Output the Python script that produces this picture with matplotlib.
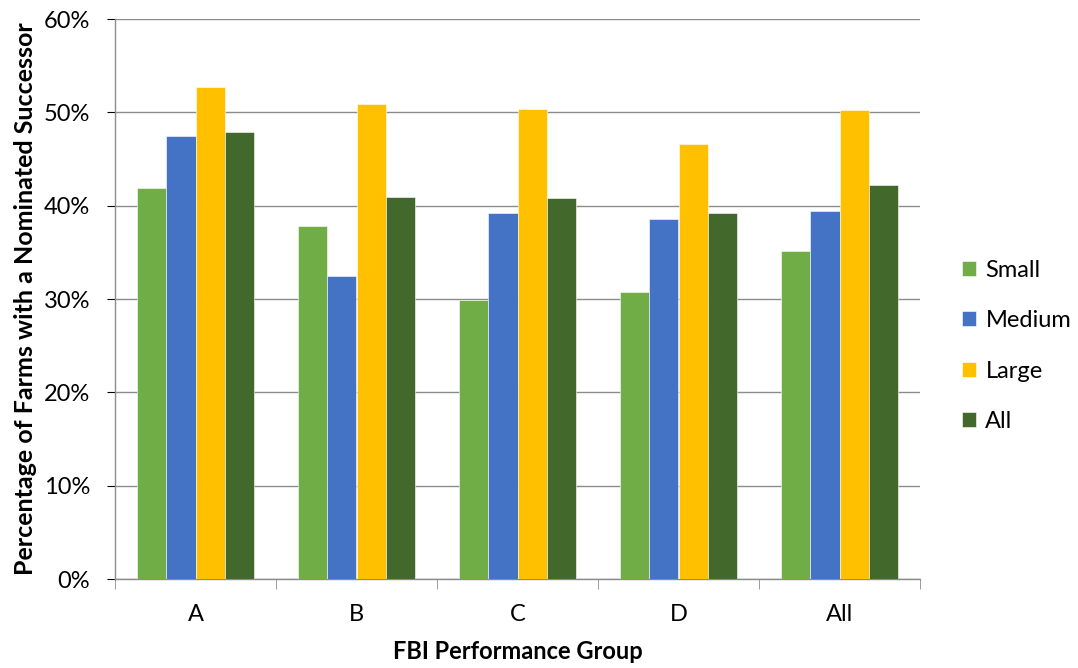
import numpy as np
import matplotlib
matplotlib.use("Agg")
import matplotlib.pyplot as plt
from matplotlib.ticker import FuncFormatter, FixedLocator

groups = ["A", "B", "C", "D", "All"]
small  = [41.9, 37.8, 29.9, 30.8, 35.1]
medium = [47.5, 32.5, 39.2, 38.6, 39.4]
large  = [52.7, 50.9, 50.4, 46.6, 50.3]
all_sz = [47.9, 40.9, 40.8, 39.2, 42.2]

series = [("Small", small, "#70AD47"),
          ("Medium", medium, "#4472C4"),
          ("Large", large, "#FFC000"),
          ("All", all_sz, "#43682B")]

plt.rcParams["font.family"] = ["Lato", "DejaVu Sans"]
FS = 17

fig = plt.figure(figsize=(10.78, 6.68), dpi=100)
ax = fig.add_axes([115 / 1078, 89 / 668, 805 / 1078, 560 / 668])

x = np.arange(len(groups))
w = 0.182
for i, (name, vals, col) in enumerate(series):
    ax.bar(x + (i - 1.5) * w, vals, width=w, color=col, label=name,
           edgecolor="white", linewidth=0.4, zorder=3)

ax.set_xlim(-0.5, len(groups) - 0.5)
ax.set_ylim(0, 60)
ax.set_yticks(np.arange(0, 61, 10))
ax.yaxis.set_major_formatter(FuncFormatter(lambda v, _: f"{v:.0f}%"))
ax.grid(axis="y", color="#8c8c8c", linewidth=1.0, zorder=0)

ax.set_xticks(x)
ax.set_xticklabels(groups)
ax.tick_params(axis="x", which="major", length=0, pad=18)
ax.xaxis.set_minor_locator(FixedLocator(np.arange(-0.5, len(groups), 1.0)))
ax.tick_params(axis="x", which="minor", length=7, color="#8c8c8c")
ax.tick_params(axis="y", length=6, color="#8c8c8c", pad=12)
ax.tick_params(labelsize=FS, colors="#000000")

for s in ["top", "right"]:
    ax.spines[s].set_visible(False)
for s in ["left", "bottom"]:
    ax.spines[s].set_color("#8c8c8c")
    ax.spines[s].set_linewidth(1.0)

ax.set_xlabel("FBI Performance Group", fontsize=FS, fontweight="bold", labelpad=11)
ax.set_ylabel("Percentage of Farms with a Nominated Successor",
              fontsize=18, fontweight="bold", labelpad=5)

fig.legend(loc="center left", bbox_to_anchor=(950 / 1078, 1 - 346 / 668),
           frameon=False, fontsize=FS, handlelength=0.6, handleheight=0.6,
           handletextpad=0.4, labelspacing=1.25, borderpad=0)

fig.savefig("out.png", dpi=100, facecolor="white")
